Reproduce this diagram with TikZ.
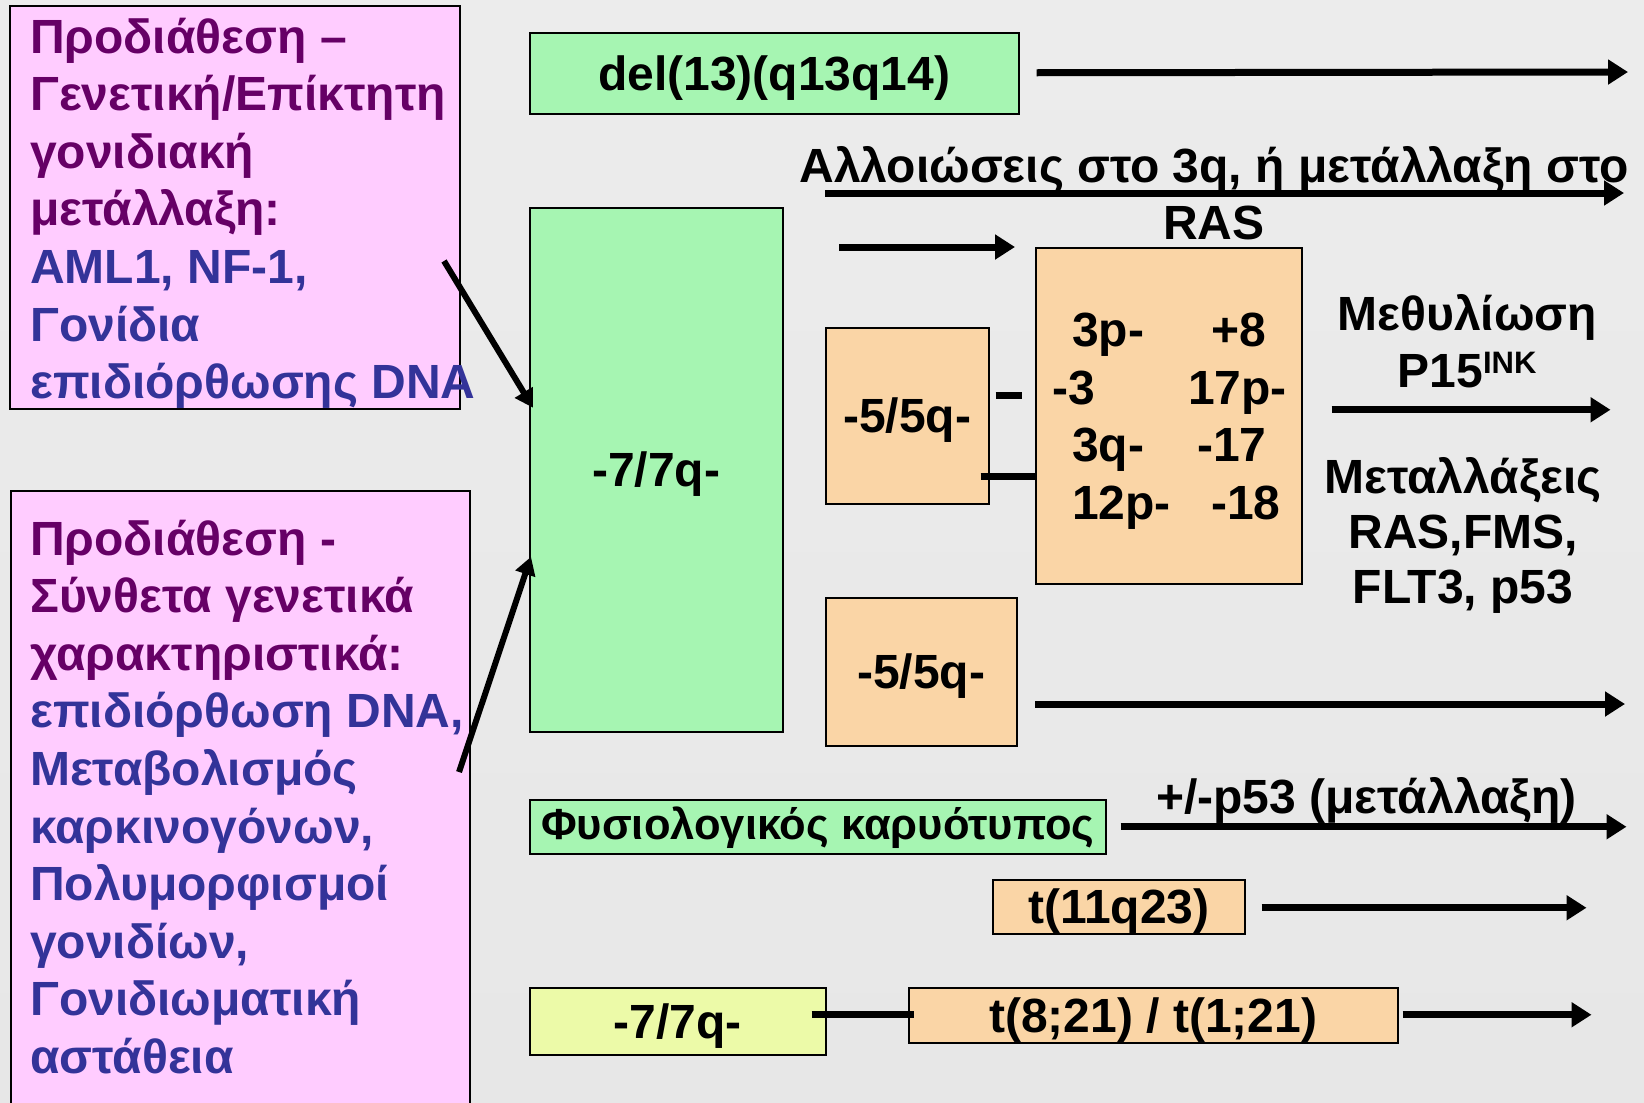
\documentclass[tikz,border=0pt]{standalone}
\usepackage{fontspec}
\setmainfont{Liberation Sans}
\usetikzlibrary{arrows.meta}
\definecolor{boxpink}{RGB}{255,204,255}
\definecolor{boxgreen}{RGB}{166,245,178}
\definecolor{boxorange}{RGB}{250,213,166}
\definecolor{boxyellow}{RGB}{236,250,168}
\definecolor{plum}{RGB}{102,0,102}
\definecolor{navy}{RGB}{51,51,153}
\definecolor{bgtop}{RGB}{236,236,236}
\definecolor{bgbottom}{RGB}{231,231,231}
\newcommand{\bigfont}{\fontsize{48}{57.6}\selectfont\bfseries}
\begin{document}
\begin{tikzpicture}[x=1pt,y=-1pt,
  every node/.style={font=\bigfont, inner sep=0pt},
  box/.style={draw=black, line width=1.5pt, anchor=north west,
    text height=34pt, text depth=0pt, align=center},
  gbox/.style={box, fill=boxgreen},
  obox/.style={box, fill=boxorange},
  ybox/.style={box, fill=boxyellow},
  pbox/.style={box, fill=boxpink, line width=2pt},
  arr/.style={line width=7pt, -{Triangle[length=20pt,width=24pt]}},
  slant/.style={line width=6pt, -{Triangle[length=18pt,width=20pt]}},
  link/.style={line width=7pt},
]
\useasboundingbox (0,0) rectangle (1644,1103);
\clip (0,0) rectangle (1644,1103);
\shade[top color=bgtop, middle color=white, bottom color=bgbottom]
  (0,0) rectangle (1644,1103);

% predisposition panels on the left
\node[pbox, minimum width=450, minimum height=403] (pre1) at (9,5) {};
\node[anchor=base west] (pre1t) at (30,53) {\parbox[t]{600pt}{\bigfont
  \noindent\color{plum}Προδιάθεση –\\Γενετική/Επίκτητη\\γονιδιακή\\μετάλλαξη:\\
  \color{navy}AML1, NF-1,\\Γονίδια\\επιδιόρθωσης DNA}};
\node[pbox, minimum width=459, minimum height=640] (pre2) at (10,490) {};
\node[anchor=base west] (pre2t) at (30,555) {\parbox[t]{600pt}{\bigfont
  \noindent\color{plum}Προδιάθεση -\\Σύνθετα γενετικά\\χαρακτηριστικά:\\
  \color{navy}επιδιόρθωση DNA,\\Μεταβολισμός\\καρκινογόνων,\\Πολυμορφισμοί\\γονιδίων,\\Γονιδιωματική\\αστάθεια}};

% karyotype boxes
\node[gbox, minimum width=489, minimum height=81] (del) at (529,32) {del(13)(q13q14)};
\node[gbox, minimum width=253, minimum height=524] (g7) at (529,207) {-7/7q-};
\node[obox, minimum width=266, minimum height=336] (ob) at (1035,247) {};
\node[obox, minimum width=163, minimum height=176] (s5) at (825,327) {-5/5q-};
\node[obox, minimum width=191, minimum height=148] (l5) at (825,597) {-5/5q-};
\node[gbox, minimum width=576, minimum height=54, text height=25pt,
  font=\fontsize{43.5}{50}\selectfont\bfseries] (norm) at (529,799) {Φυσιολογικός καρυότυπος};
\node[obox, minimum width=252, minimum height=54] (t11) at (992,879) {t(11q23)};
\node[ybox, minimum width=296, minimum height=67] (y7) at (529,987) {-7/7q-};
\node[obox, minimum width=489, minimum height=55] (t821) at (908,987) {t(8;21) / t(1;21)};

% secondary abnormalities inside the large box
\node[anchor=base west] (o3p)  at (1072,346) {3p-};
\node[anchor=base west] (o8)   at (1211,346) {+8};
\node[anchor=base west] (om3)  at (1052,404) {-3};
\node[anchor=base west] (o17p) at (1188,404) {17p-};
\node[anchor=base west] (o3q)  at (1072,461) {3q-};
\node[anchor=base west] (om17) at (1197,461) {-17};
\node[anchor=base west] (o12p) at (1072,519) {12p-};
\node[anchor=base west] (om18) at (1211,519) {-18};

% event labels
\node[anchor=base] (alt) at (1214,182) {\parbox[t]{900pt}{\centering\bigfont
  Αλλοιώσεις στο 3q, ή μετάλλαξη στο\\RAS}};
\node[anchor=base] (meth) at (1467,330) {\parbox[t]{320pt}{\centering\bigfont
  Μεθυλίωση\\P15\raisebox{14pt}{\fontsize{31}{31}\selectfont INK}}};
\node[anchor=base] (mut) at (1463,493) {\parbox[t]{320pt}{\centering
  \fontsize{48}{55}\selectfont\bfseries Μεταλλάξεις\\RAS,FMS,\\FLT3, p53}};
\node[anchor=base west] (p53) at (1156,813) {+/-p53 (μετάλλαξη)};

% free arrow ends
\coordinate (delend) at (1628,72);
\coordinate (alts) at (825,193);
\coordinate (alte) at (1624,193);
\coordinate (shorts) at (839,247);
\coordinate (l5s) at (1035,704);
\coordinate (l5e) at (1625,704);
\coordinate (d1s) at (444,261);
\coordinate (d2s) at (459,772);

% arrows
\draw[arr] ([xshift=17pt,yshift=0.5pt]del.east) -- (delend);
\draw[arr] (alts) -- (alte);
\draw[arr] (shorts) -- ([xshift=-20pt]ob.north west);
\draw[arr] ([xshift=29pt,yshift=6pt]ob.east) -- ++(279,0);
\draw[arr] (l5s) -- (l5e);
\draw[arr] ([xshift=14pt]norm.east) -- ++(506,0);
\draw[arr] ([xshift=16pt,yshift=-1pt]t11.east) -- ++(325,0);
\draw[arr] ([xshift=4pt,yshift=0.5pt]t821.east) -- ++(189,0);
\draw[slant] (d1s) -- ([xshift=4pt,yshift=62pt]g7.west);
\draw[slant] (d2s) -- ([xshift=2pt,yshift=-87pt]g7.west);

% plain links between boxes
\draw[link] ([xshift=6pt,yshift=20pt]s5.east) -- ([xshift=-13pt,yshift=20pt]ob.west);
\draw[link] ([xshift=-9pt,yshift=-61pt]s5.east) -- ([xshift=2pt,yshift=-61pt]ob.west);
\draw[link, shorten <=-15pt, shorten >=-6pt] ([yshift=6.5pt]y7.east) -- ([yshift=0.5pt]t821.west);
\end{tikzpicture}
\end{document}
